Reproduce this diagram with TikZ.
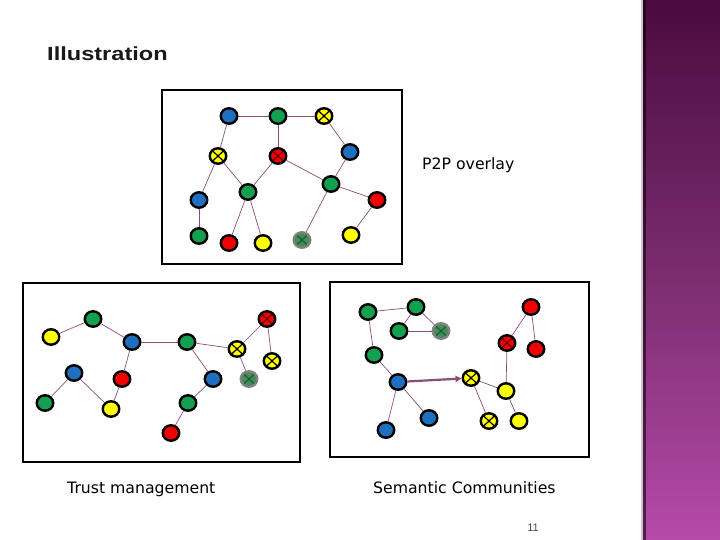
\documentclass[tikz,border=0pt]{standalone}
\usepackage{fontspec}
\setmainfont{DejaVu Sans}
\newfontfamily\titlefont{Liberation Sans}
\usetikzlibrary{shapes.geometric,arrows.meta}
\definecolor{nblue}{HTML}{1F6FC0}
\definecolor{ngreen}{HTML}{13A050}
\definecolor{nred}{HTML}{F00000}
\definecolor{nyellow}{HTML}{FFFF00}
\definecolor{ngray}{HTML}{3F8F55}
\definecolor{edgec}{HTML}{8A4E7E}
\definecolor{bandtop}{HTML}{4A0B3F}
\definecolor{bandmid}{HTML}{7A2C6E}
\definecolor{bandbot}{HTML}{B54AA9}
\tikzset{
  nd/.style={ellipse, draw=black, line width=2.4pt, minimum width=16.5pt, minimum height=15.5pt, inner sep=0pt},
  bl/.style={nd, fill=nblue},
  gr/.style={nd, fill=ngreen},
  rd/.style={nd, fill=nred},
  yl/.style={nd, fill=nyellow},
  xmark/.style={path picture={\draw[line width=1.2pt,#1]
     (path picture bounding box.north west) -- (path picture bounding box.south east)
     (path picture bounding box.north east) -- (path picture bounding box.south west);}},
  yx/.style={yl, xmark=black},
  rx/.style={rd, xmark={black!60!red}},
  gx/.style={nd, draw=gray, fill=ngray, xmark={black!40!ngray}},
  ed/.style={draw=edgec, line width=0.7pt},
  panel/.style={draw=black, line width=2.4pt},
  lab/.style={font=\fontsize{15.7}{18}\selectfont, inner sep=0pt, anchor=west}
}
\begin{document}
\begin{tikzpicture}[x=1pt,y=-1pt]
\useasboundingbox (0,0) rectangle (720,540);
\fill[white] (0,0) rectangle (720,540);
% side band
\shade[top color=bandtop, bottom color=bandbot, middle color=bandmid] (643,0) rectangle (720,540);
\fill[black!80!bandtop, opacity=0.6] (643,0) rectangle (646,540);
\fill[bandtop!25!white] (641,0) rectangle (643,540);

% title
\node[anchor=base west, inner sep=0pt, font=\titlefont\bfseries\fontsize{19}{22}\selectfont, xscale=1.24, text=black!90] (title) at (47,61) {Illustration};

% panels
\draw[panel] (162,90) rectangle (402,264);
\draw[panel] (23,283) rectangle (300,462);
\draw[panel] (330,282) rectangle (589,457);

% labels
\node[lab] (l1) at (422,165) {P2P overlay};
\node[lab] (l2) at (67,489) {Trust management};
\node[lab] (l3) at (373,488) {Semantic Communities};
\node[font=\titlefont\fontsize{11}{13}\selectfont, text=black!45!bandmid!60!gray, inner sep=0pt] (pg) at (533,528) {11};

% ---------- panel 1: P2P overlay
\node[bl] (a1) at (229,116) {};
\node[gr] (a2) at (278,116) {};
\node[yx] (a3) at (324,116) {};
\node[yx] (a4) at (218,156) {};
\node[rx] (a5) at (278,156) {};
\node[bl] (a6) at (350,152) {};
\node[bl] (a7) at (199,200) {};
\node[gr] (a8) at (248,192) {};
\node[gr] (a9) at (331,184) {};
\node[rd] (a10) at (377,200) {};
\node[gr] (a11) at (199,236) {};
\node[rd] (a12) at (229,243) {};
\node[yl] (a13) at (263,243) {};
\node[gx] (a14) at (302,240) {};
\node[yl] (a15) at (351,235) {};
\draw[ed] (a1) -- (a2);
\draw[ed] (a2) -- (a3);
\draw[ed] (a1) -- (a4);
\draw[ed] (a2) -- (a5);
\draw[ed] (a3) -- (a6);
\draw[ed] (a4) -- (a7);
\draw[ed] (a4) -- (a8);
\draw[ed] (a5) -- (a8);
\draw[ed] (a5) -- (a9);
\draw[ed] (a6) -- (a9);
\draw[ed] (a7) -- (a11);
\draw[ed] (a8) -- (a12);
\draw[ed] (a8) -- (a13);
\draw[ed] (a9) -- (a14);
\draw[ed] (a9) -- (a10);
\draw[ed] (a10) -- (a15);

% ---------- panel 2: Trust management
\node[gr] (b1) at (93,319) {};
\node[yl] (b2) at (51,337) {};
\node[bl] (b3) at (132,342) {};
\node[gr] (b4) at (187,342) {};
\node[yx] (b5) at (237,349) {};
\node[rx] (b6) at (267,319) {};
\node[yx] (b7) at (272,361) {};
\node[gx] (b8) at (249,379) {};
\node[bl] (b9) at (74,373) {};
\node[rd] (b10) at (122,379) {};
\node[bl] (b11) at (213,379) {};
\node[gr] (b12) at (45,403) {};
\node[yl] (b13) at (111,409) {};
\node[gr] (b14) at (188,403) {};
\node[rd] (b15) at (171,433) {};
\draw[ed] (b2) -- (b1);
\draw[ed] (b1) -- (b3);
\draw[ed] (b3) -- (b4);
\draw[ed] (b4) -- (b5);
\draw[ed] (b5) -- (b6);
\draw[ed] (b6) -- (b7);
\draw[ed] (b5) -- (b8);
\draw[ed] (b3) -- (b10);
\draw[ed] (b10) -- (b13);
\draw[ed] (b9) -- (b12);
\draw[ed] (b9) -- (b13);
\draw[ed] (b4) -- (b11);
\draw[ed] (b11) -- (b14);
\draw[ed] (b14) -- (b15);

% ---------- panel 3: Semantic Communities
\node[gr] (c1) at (368,312) {};
\node[gr] (c2) at (416,307) {};
\node[gr] (c3) at (399,331) {};
\node[gx] (c4) at (441,331) {};
\node[gr] (c5) at (374,355) {};
\node[bl] (c6) at (398,382) {};
\node[yx] (c7) at (471,378) {};
\node[yl] (c8) at (506,391) {};
\node[bl] (c9) at (429,418) {};
\node[bl] (c10) at (386,430) {};
\node[yx] (c11) at (489,421) {};
\node[yl] (c12) at (519,421) {};
\node[rd] (c13) at (531,307) {};
\node[rx] (c14) at (507,343) {};
\node[rd] (c15) at (536,349) {};
\draw[ed] (c1) -- (c2);
\draw[ed] (c2) -- (c3);
\draw[ed] (c2) -- (c4);
\draw[ed] (c3) -- (c4);
\draw[ed] (c1) -- (c5);
\draw[ed] (c5) -- (c6);
\draw[ed, line width=2.2pt, -{Triangle[length=6pt,width=6pt]}] (c6) -- (c7);
\draw[ed] (c6) -- (c10);
\draw[ed] (c6) -- (c9);
\draw[ed] (c7) -- (c8);
\draw[ed] (c7) -- (c11);
\draw[ed] (c8) -- (c12);
\draw[ed] (c8) -- (c14);
\draw[ed] (c14) -- (c13);
\draw[ed] (c13) -- (c15);
\end{tikzpicture}
\end{document}
